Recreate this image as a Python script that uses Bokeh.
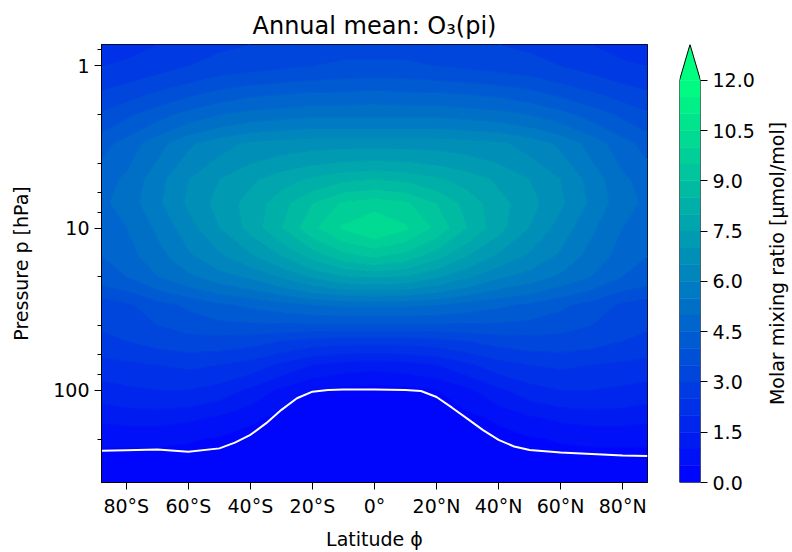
import numpy as np
from bokeh.plotting import figure
from bokeh.layouts import row
from bokeh.models import Range1d, FixedTicker, LogTicker, NumeralTickFormatter
from bokeh.embed import file_html
from bokeh.resources import INLINE

# ---------------- data ----------------
lat = [-88, -80, -70, -60, -50, -40, -30, -20, -10, 0, 10, 20, 30, 40, 50, 60, 70, 80, 88]
pres = [0.74, 1, 1.5, 2, 3, 5, 7, 10, 15, 20, 30, 50, 70, 100, 150, 200, 300, 370]

# ozone molar mixing ratio [umol/mol], one row per pressure level
o3_p0_74 = [2.2, 2.3, 2.5, 2.7, 2.9, 3.0, 3.1, 3.2, 3.3, 3.3, 3.3, 3.2, 3.1, 3.0, 2.9, 2.7, 2.5, 2.3, 2.2]
o3_p1    = [2.5, 2.6, 2.8, 3.0, 3.2, 3.3, 3.4, 3.5, 3.6, 3.6, 3.6, 3.5, 3.4, 3.3, 3.2, 3.0, 2.8, 2.6, 2.5]
o3_p1_5  = [3.1, 3.3, 3.6, 3.9, 4.2, 4.4, 4.5, 4.6, 4.6, 4.7, 4.6, 4.6, 4.5, 4.4, 4.2, 3.9, 3.6, 3.3, 3.1]
o3_p2    = [3.6, 3.9, 4.3, 4.7, 5.0, 5.2, 5.3, 5.4, 5.4, 5.4, 5.4, 5.4, 5.3, 5.2, 5.0, 4.7, 4.3, 3.9, 3.6]
o3_p3    = [4.3, 4.7, 5.3, 5.9, 6.3, 6.6, 6.7, 6.8, 6.8, 6.8, 6.8, 6.8, 6.7, 6.6, 6.3, 5.9, 5.3, 4.7, 4.3]
o3_p5    = [4.8, 5.1, 5.8, 6.5, 7.0, 7.4, 7.8, 8.1, 8.4, 8.5, 8.4, 8.1, 7.8, 7.4, 7.0, 6.5, 5.8, 5.1, 4.8]
o3_p7    = [4.9, 5.2, 5.9, 6.6, 7.2, 7.7, 8.3, 9.0, 9.6, 9.8, 9.6, 9.0, 8.3, 7.7, 7.2, 6.6, 5.9, 5.2, 4.9]
o3_p10   = [4.7, 5.0, 5.6, 6.3, 7.0, 7.7, 8.5, 9.4, 10.1, 10.5, 10.1, 9.4, 8.5, 7.7, 7.0, 6.3, 5.6, 5.0, 4.7]
o3_p15   = [4.5, 4.8, 5.3, 5.9, 6.4, 6.9, 7.5, 8.2, 8.8, 9.1, 8.8, 8.2, 7.5, 6.9, 6.4, 5.9, 5.3, 4.8, 4.5]
o3_p20   = [4.3, 4.5, 5.0, 5.4, 5.8, 6.1, 6.6, 7.1, 7.5, 7.6, 7.5, 7.1, 6.6, 6.1, 5.8, 5.4, 5.0, 4.5, 4.3]
o3_p30   = [3.2, 3.4, 3.8, 4.1, 4.4, 4.6, 4.8, 5.0, 5.1, 5.1, 5.1, 5.0, 4.8, 4.6, 4.4, 4.1, 3.8, 3.4, 3.2]
o3_p50   = [2.9, 3.0, 3.2, 3.3, 3.3, 3.2, 3.0, 2.8, 2.7, 2.7, 2.7, 2.8, 3.0, 3.2, 3.3, 3.3, 3.2, 3.0, 2.9]
o3_p70   = [2.3, 2.4, 2.5, 2.6, 2.5, 2.3, 1.9, 1.5, 1.3, 1.2, 1.3, 1.5, 1.9, 2.3, 2.5, 2.6, 2.5, 2.4, 2.3]
o3_p100  = [1.8, 1.9, 2.0, 2.0, 1.8, 1.4, 0.9, 0.5, 0.35, 0.3, 0.35, 0.5, 0.9, 1.4, 1.8, 2.0, 2.0, 1.9, 1.8]
o3_p150  = [1.1, 1.2, 1.2, 1.1, 0.9, 0.6, 0.35, 0.15, 0.1, 0.1, 0.1, 0.15, 0.35, 0.6, 0.9, 1.1, 1.2, 1.2, 1.1]
o3_p200  = [0.6, 0.6, 0.6, 0.55, 0.45, 0.3, 0.15, 0.08, 0.06, 0.06, 0.06, 0.08, 0.15, 0.3, 0.45, 0.55, 0.6, 0.6, 0.6]
o3_p300  = [0.2, 0.2, 0.2, 0.2, 0.15, 0.1, 0.06, 0.05, 0.04, 0.04, 0.04, 0.05, 0.06, 0.1, 0.15, 0.2, 0.2, 0.2, 0.2]
o3_p370  = [0.12, 0.12, 0.12, 0.12, 0.1, 0.07, 0.05, 0.04, 0.04, 0.04, 0.04, 0.04, 0.05, 0.07, 0.1, 0.12, 0.12, 0.12, 0.12]

# tropopause (white line)
trop_lat = [-88, -80, -70, -60, -50, -45, -40, -35, -30, -25, -20, -15, -10, 0, 10, 15, 20, 25, 30, 35, 40, 45, 50, 60, 70, 80, 88]
trop_p = [236, 234, 232, 239, 228, 210, 188, 160, 132, 112, 102, 99.5, 99, 99, 99.5, 101, 110, 128, 150, 176, 202, 222, 233, 242, 247, 252, 254]

levels = [0.0, 0.5, 1.0, 1.5, 2.0, 2.5, 3.0, 3.5, 4.0, 4.5, 5.0, 5.5, 6.0, 6.5,
          7.0, 7.5, 8.0, 8.5, 9.0, 9.5, 10.0, 10.5, 11.0, 11.5, 12.0]
cbar_ticks = [0.0, 1.5, 3.0, 4.5, 6.0, 7.5, 9.0, 10.5, 12.0]
lat_ticks = [-80, -60, -40, -20, 0, 20, 40, 60, 80]
lat_tick_labels = ["80°S", "60°S", "40°S", "20°S", "0°", "20°N", "40°N", "60°N", "80°N"]
p_ticks = [1, 10, 100]
p_tick_labels = ["1", "10", "100"]

Z = np.array([o3_p0_74, o3_p1, o3_p1_5, o3_p2, o3_p3, o3_p5, o3_p7, o3_p10, o3_p15,
              o3_p20, o3_p30, o3_p50, o3_p70, o3_p100, o3_p150, o3_p200, o3_p300, o3_p370])


# matplotlib "winter" colormap
def winter(t):
    t = min(max(t, 0.0), 1.0)
    g = int(round(255 * t))
    b = int(round(255 * (1 - 0.5 * t)))
    return "#%02x%02x%02x" % (0, g, b)


vmin, vmax = levels[0], levels[-1]
palette = [winter(((a + b) / 2 - vmin) / (vmax - vmin)) for a, b in zip(levels[:-1], levels[1:])]
edge_colors = [winter((v - vmin) / (vmax - vmin)) for v in levels]
over_color = winter(1.0)

FONT = "DejaVu Sans"
TXT = "#000000"

# ---------------- main figure ----------------
p = figure(width=662, height=552, x_range=Range1d(-88, 88), y_range=Range1d(370, 0.74),
           y_axis_type="log", output_backend="svg", toolbar_location=None,
           min_border_left=101, min_border_right=15, min_border_top=44, min_border_bottom=67,
           title="Annual mean: O₃(pi)")
p.title.align = "center"
p.title.text_font = FONT
p.title.text_font_size = "24px"
p.title.text_font_style = "normal"
p.title.text_color = TXT
p.grid.visible = False
p.outline_line_color = "black"
p.outline_line_alpha = 1.0
p.background_fill_color = palette[0]

p.contour(x=lat, y=pres, z=Z, levels=levels, fill_color=palette,
          line_color=edge_colors, line_width=1.2)
p.line(trop_lat, trop_p, line_color="white", line_width=2)

p.xaxis.ticker = FixedTicker(ticks=lat_ticks)
p.xaxis.major_label_overrides = dict(zip(lat_ticks, lat_tick_labels))
p.xaxis.axis_label = "Latitude ϕ"
p.yaxis.ticker = LogTicker()
p.yaxis.major_label_overrides = dict(zip(p_ticks, p_tick_labels))
p.yaxis.axis_label = "Pressure p [hPa]"
for ax in (p.xaxis[0], p.yaxis[0]):
    ax.axis_line_color = "black"
    ax.major_tick_in = 0
    ax.major_tick_out = 7
    ax.minor_tick_in = 0
    ax.minor_tick_out = 4
    ax.major_tick_line_color = "black"
    ax.minor_tick_line_color = "black"
    ax.major_label_text_font = FONT
    ax.major_label_text_font_size = "19px"
    ax.major_label_text_color = TXT
    ax.axis_label_text_font = FONT
    ax.axis_label_text_font_size = "19px"
    ax.axis_label_text_font_style = "normal"
    ax.axis_label_text_color = TXT
    ax.major_label_standoff = 5
    ax.axis_label_standoff = 8
p.yaxis.axis_label_standoff = 18
p.xaxis.minor_tick_line_color = None

# ---------------- colour bar ----------------
ext = (levels[-1] - levels[0]) * 0.089
cb = figure(width=100, height=552, x_range=Range1d(0, 1), y_range=Range1d(levels[0], levels[-1] + ext),
            output_backend="svg", toolbar_location=None, y_axis_location="right",
            min_border_left=17, min_border_right=62, min_border_top=44, min_border_bottom=67)
cb.grid.visible = False
cb.outline_line_color = None
cb.xaxis.visible = False
cb.quad(left=0, right=1, bottom=levels[:-1], top=levels[1:], fill_color=palette, line_color=palette,
        line_width=0.5)
cb.patch([0, 0.5, 1], [levels[-1], levels[-1] + ext, levels[-1]], fill_color=over_color, line_color=None)
cb.line([0, 0, 0.5, 1, 1, 0], [levels[0], levels[-1], levels[-1] + ext, levels[-1], levels[0], levels[0]],
        line_color="black", line_width=1)
ya = cb.yaxis[0]
ya.ticker = FixedTicker(ticks=cbar_ticks)
ya.formatter = NumeralTickFormatter(format="0.0")
ya.axis_line_color = None
ya.major_tick_in = 0
ya.major_tick_out = 7
ya.minor_tick_line_color = None
ya.major_tick_line_color = "black"
ya.major_label_text_font = FONT
ya.major_label_text_font_size = "19px"
ya.major_label_text_color = TXT
ya.major_label_standoff = 5

# ---------------- colour-bar label (reads bottom to top) ----------------
lab = figure(width=30, height=552, x_range=Range1d(0, 1), y_range=Range1d(0, 1),
             output_backend="svg", toolbar_location=None,
             min_border_left=23, min_border_right=0, min_border_top=44, min_border_bottom=67)
lab.grid.visible = False
lab.outline_line_color = None
lab.xaxis.visible = False
la = lab.yaxis[0]
la.ticker = FixedTicker(ticks=[])
la.axis_line_color = None
la.major_tick_line_color = None
la.minor_tick_line_color = None
la.major_label_text_font_size = "0px"
la.axis_label = "Molar mixing ratio [μmol/mol]"
la.axis_label_text_font = FONT
la.axis_label_text_font_size = "19px"
la.axis_label_text_font_style = "normal"
la.axis_label_text_color = TXT
la.axis_label_standoff = 0

layout = row(p, cb, lab)
open("out.html", "w").write(file_html(layout, INLINE))
